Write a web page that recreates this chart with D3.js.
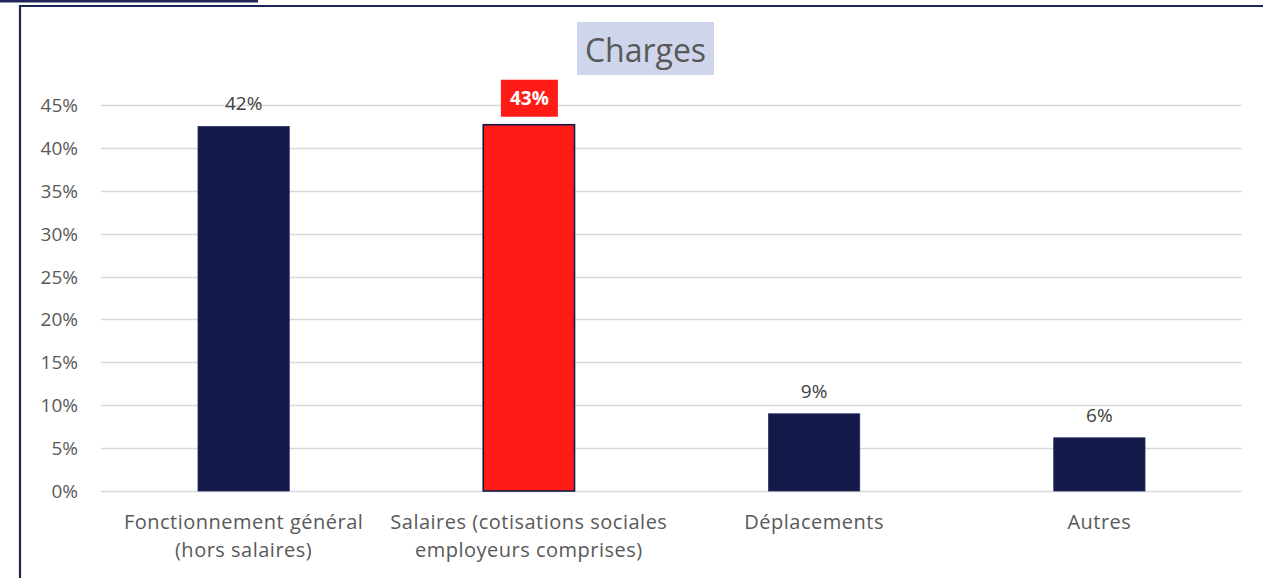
<!DOCTYPE html>
<html>
<head>
<meta charset="utf-8">
<script src="https://cdn.jsdelivr.net/npm/d3@7"></script>
<style>
  html, body { margin: 0; padding: 0; background: #fff; }
  svg { display: block; }
  text { font-family: "Open Sans", Lato, sans-serif; }
</style>
</head>
<body>
<svg id="chart" width="1263" height="578"></svg>
<script>
// Chart data
const categories = [
  ["Fonctionnement général", "(hors salaires)"],
  ["Salaires (cotisations sociales", "employeurs comprises)"],
  ["Déplacements"],
  ["Autres"]
];
const values = [0.425, 0.427, 0.09, 0.062];
const valueLabels = ["42%", "43%", "9%", "6%"];
const highlightIndex = 1;
const yTicks = [0, 0.05, 0.10, 0.15, 0.20, 0.25, 0.30, 0.35, 0.40, 0.45];
const title = "Charges";

const svg = d3.select("#chart");
const W = 1263, H = 578;
const margin = { top: 105, right: 21, bottom: 87, left: 101 };
const innerW = W - margin.left - margin.right;
const innerH = H - margin.top - margin.bottom;

const navy = "#131a4a";
const red = "#ff1c17";
const textCol = "#595959";

// Outer frame
svg.append("rect").attr("x", 0).attr("y", 0).attr("width", 258).attr("height", 2.5).attr("fill", "#1f2559");
svg.append("path")
  .attr("d", `M20,${H + 5} L20,6 L${W + 5},6`)
  .attr("fill", "none").attr("stroke", "#1f2559").attr("stroke-width", 2.2);

const g = svg.append("g").attr("transform", `translate(${margin.left},${margin.top})`);

const x = d3.scaleBand().domain(d3.range(categories.length)).range([0, innerW]).paddingInner(0.68).paddingOuter(0.34);
const y = d3.scaleLinear().domain([0, 0.45]).range([innerH, 0]);

// Gridlines
g.append("g").selectAll("line").data(yTicks).join("line")
  .attr("x1", 0).attr("x2", innerW)
  .attr("y1", d => Math.round(y(d)) + 0.5).attr("y2", d => Math.round(y(d)) + 0.5)
  .attr("stroke", "#d9d9d9").attr("stroke-width", 1.3);

// Y axis labels
const yAxis = d3.axisLeft(y).tickValues(yTicks).tickFormat(d3.format(".0%")).tickSize(0).tickPadding(23);
const ya = g.append("g").call(yAxis);
ya.select(".domain").remove();
ya.selectAll("text").attr("fill", textCol).style("font-size", "19px")
  .attr("font-family", "'Open Sans', sans-serif").attr("dy", "0.34em");

// Bars
g.append("g").selectAll("rect").data(values).join("rect")
  .attr("x", (d, i) => x(i))
  .attr("y", d => y(d))
  .attr("width", x.bandwidth())
  .attr("height", d => innerH - y(d))
  .attr("fill", (d, i) => i === highlightIndex ? red : navy)
  .attr("stroke", (d, i) => i === highlightIndex ? navy : "#2a3163")
  .attr("stroke-width", (d, i) => i === highlightIndex ? 1.6 : 0.8);

// Value labels
values.forEach((v, i) => {
  const cx = x(i) + x.bandwidth() / 2;
  if (i === highlightIndex) {
    g.append("rect")
      .attr("x", cx - 28).attr("y", y(v) - 45)
      .attr("width", 57).attr("height", 37)
      .attr("fill", red);
    g.append("text")
      .attr("x", cx + 0.5).attr("y", y(v) - 19.5)
      .attr("text-anchor", "middle")
      .attr("fill", "#fff").style("font-size", "19px").style("font-weight", "bold")
      .text(valueLabels[i]);
  } else {
    g.append("text")
      .attr("x", cx).attr("y", y(v) - 16)
      .attr("text-anchor", "middle")
      .attr("fill", "#404040").style("font-size", "19px")
      .text(valueLabels[i]);
  }
});

// Category labels
const xa = g.append("g").attr("transform", `translate(0,${innerH})`);
categories.forEach((lines, i) => {
  const t = xa.append("text")
    .attr("x", x(i) + x.bandwidth() / 2)
    .attr("y", 38)
    .attr("text-anchor", "middle")
    .attr("fill", textCol).style("font-size", "20px").style("letter-spacing", "0.5px");
  lines.forEach((ln, k) => {
    t.append("tspan").attr("x", x(i) + x.bandwidth() / 2).attr("dy", k === 0 ? 0 : 28).text(ln);
  });
});

// Title
const tg = svg.append("g");
tg.append("rect").attr("x", 577).attr("y", 22).attr("width", 137).attr("height", 53).attr("fill", "#cfd5ea");
tg.append("text").attr("x", 645.5).attr("y", 62).attr("text-anchor", "middle")
  .attr("fill", textCol).style("font-size", "32px").text(title);
</script>
</body>
</html>
